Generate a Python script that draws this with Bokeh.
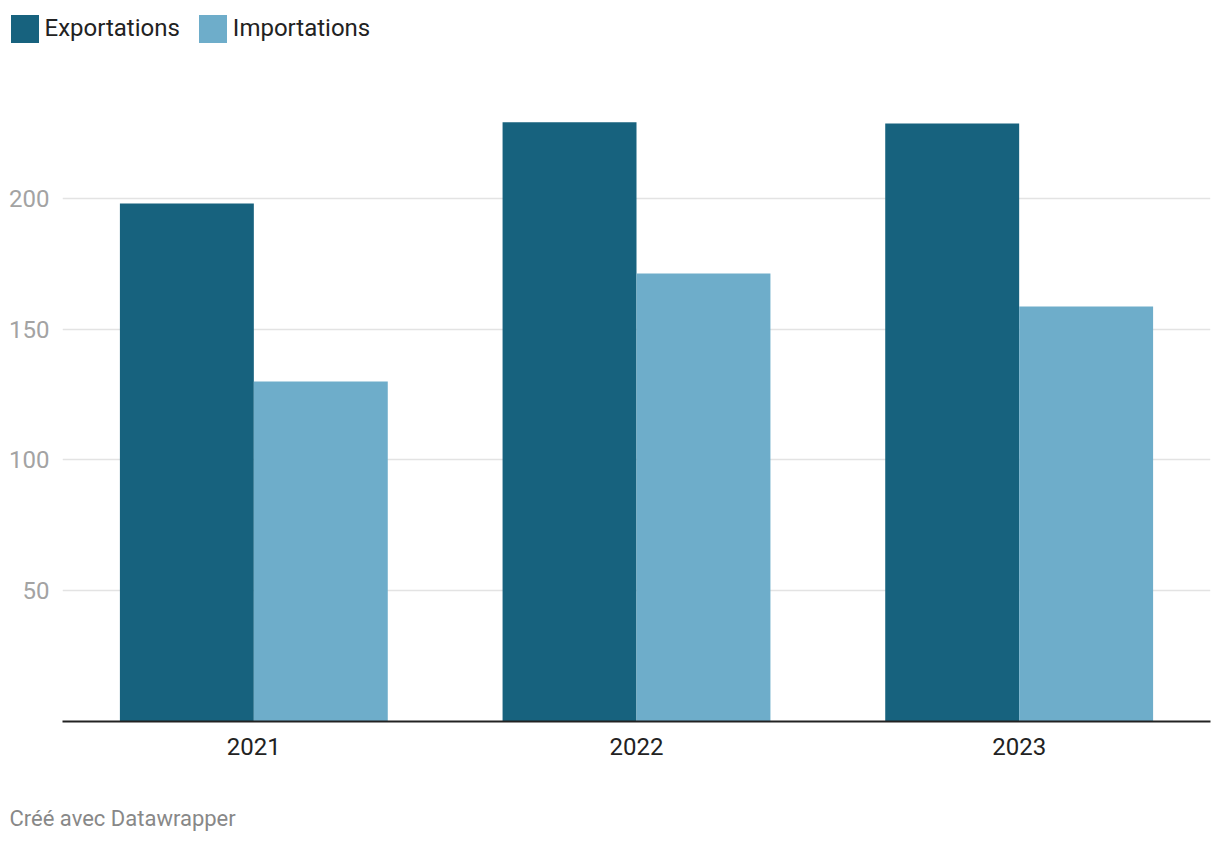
from bokeh.plotting import figure
from bokeh.layouts import column
from bokeh.models import (ColumnDataSource, FactorRange, Range1d, FixedTicker,
                          Legend, LegendItem, Title)
from bokeh.transform import dodge
from bokeh.embed import file_html
from bokeh.resources import INLINE

years = ["2021", "2022", "2023"]
exportations = [198.1, 229.1, 228.7]
importations = [130.0, 171.3, 158.7]
y_ticks = [50, 100, 150, 200]
series_names = ["Exportations", "Importations"]
footer_text = "Créé avec Datawrapper"

EXP_COLOR = "#17627e"
IMP_COLOR = "#6eadca"
FONT = "Roboto"

src = ColumnDataSource(dict(year=years, exp=exportations, imp=importations))

LEG_H = 56
FOOT_H = 40
MAIN_H = 844 - LEG_H - FOOT_H

# ---------- legend strip ----------
leg = figure(width=1220, height=LEG_H, output_backend="svg", toolbar_location=None,
             x_range=FactorRange(*years), y_range=Range1d(0, 1),
             min_border=0, outline_line_color=None, frame_align=False,
             background_fill_color="white", border_fill_color="white")
leg.axis.visible = False
leg.grid.visible = False
l_exp = leg.vbar(x=dodge("year", -0.175, range=leg.x_range), top="exp", width=0.35,
                 source=src, fill_color=EXP_COLOR, line_color=None, visible=False)
l_imp = leg.vbar(x=dodge("year", 0.175, range=leg.x_range), top="imp", width=0.35,
                 source=src, fill_color=IMP_COLOR, line_color=None, visible=False)
legend = Legend(items=[LegendItem(label=series_names[0], renderers=[l_exp]),
                       LegendItem(label=series_names[1], renderers=[l_imp])],
                orientation="horizontal", location=(6.5, LEG_H - 45.5),
                glyph_width=35, glyph_height=35, label_height=35,
                label_standoff=3, spacing=15, padding=0, margin=0,
                border_line_color=None, background_fill_alpha=0,
                label_text_font=FONT, label_text_font_size="24px",
                label_text_color="#222222", label_text_baseline="middle")
leg.add_layout(legend, "center")

# ---------- main chart ----------
p = figure(width=1220, height=MAIN_H, output_backend="svg", toolbar_location=None,
           x_range=FactorRange(*years, range_padding=0, factor_padding=0),
           y_range=Range1d(0, 245.1), frame_align=False,
           min_border_left=62, min_border_right=10, min_border_top=80 - LEG_H,
           min_border_bottom=LEG_H + MAIN_H - 721, outline_line_color=None,
           background_fill_color="white", border_fill_color="white")

p.vbar(x=dodge("year", -0.175, range=p.x_range), top="exp", width=0.35,
       source=src, fill_color=EXP_COLOR, line_color=None)
p.vbar(x=dodge("year", 0.175, range=p.x_range), top="imp", width=0.35,
       source=src, fill_color=IMP_COLOR, line_color=None)

p.xgrid.grid_line_color = None
p.ygrid.ticker = FixedTicker(ticks=y_ticks)
p.ygrid.grid_line_color = "#e3e3e3"
p.ygrid.grid_line_width = 1.5

yax = p.yaxis[0]
yax.ticker = FixedTicker(ticks=y_ticks)
yax.axis_line_color = None
yax.major_tick_line_color = None
yax.minor_tick_line_color = None
yax.major_label_standoff = 7
yax.major_label_text_font = FONT
yax.major_label_text_font_size = "24px"
yax.major_label_text_color = "#a3a3a3"

xax = p.xaxis[0]
xax.axis_line_color = "#222222"
xax.axis_line_width = 2
xax.major_tick_line_color = None
xax.minor_tick_line_color = None
xax.major_label_standoff = 10
xax.major_label_text_font = FONT
xax.major_label_text_font_size = "24px"
xax.major_label_text_color = "#222222"

# ---------- footer strip ----------
foot = figure(width=1220, height=FOOT_H, output_backend="svg", toolbar_location=None,
              x_range=Range1d(0, 1), y_range=Range1d(0, 1),
              min_border=0, outline_line_color=None, frame_align=False,
              background_fill_color="white", border_fill_color="white")
foot.axis.visible = False
foot.grid.visible = False
foot.add_layout(Title(text=footer_text, align="left", offset=9,
                      vertical_align="middle",
                      text_font=FONT, text_font_size="22px", text_color="#888888",
                      text_font_style="normal", standoff=0), "above")

layout = column(leg, p, foot, spacing=0)
open("out.html", "w").write(file_html(layout, INLINE))
